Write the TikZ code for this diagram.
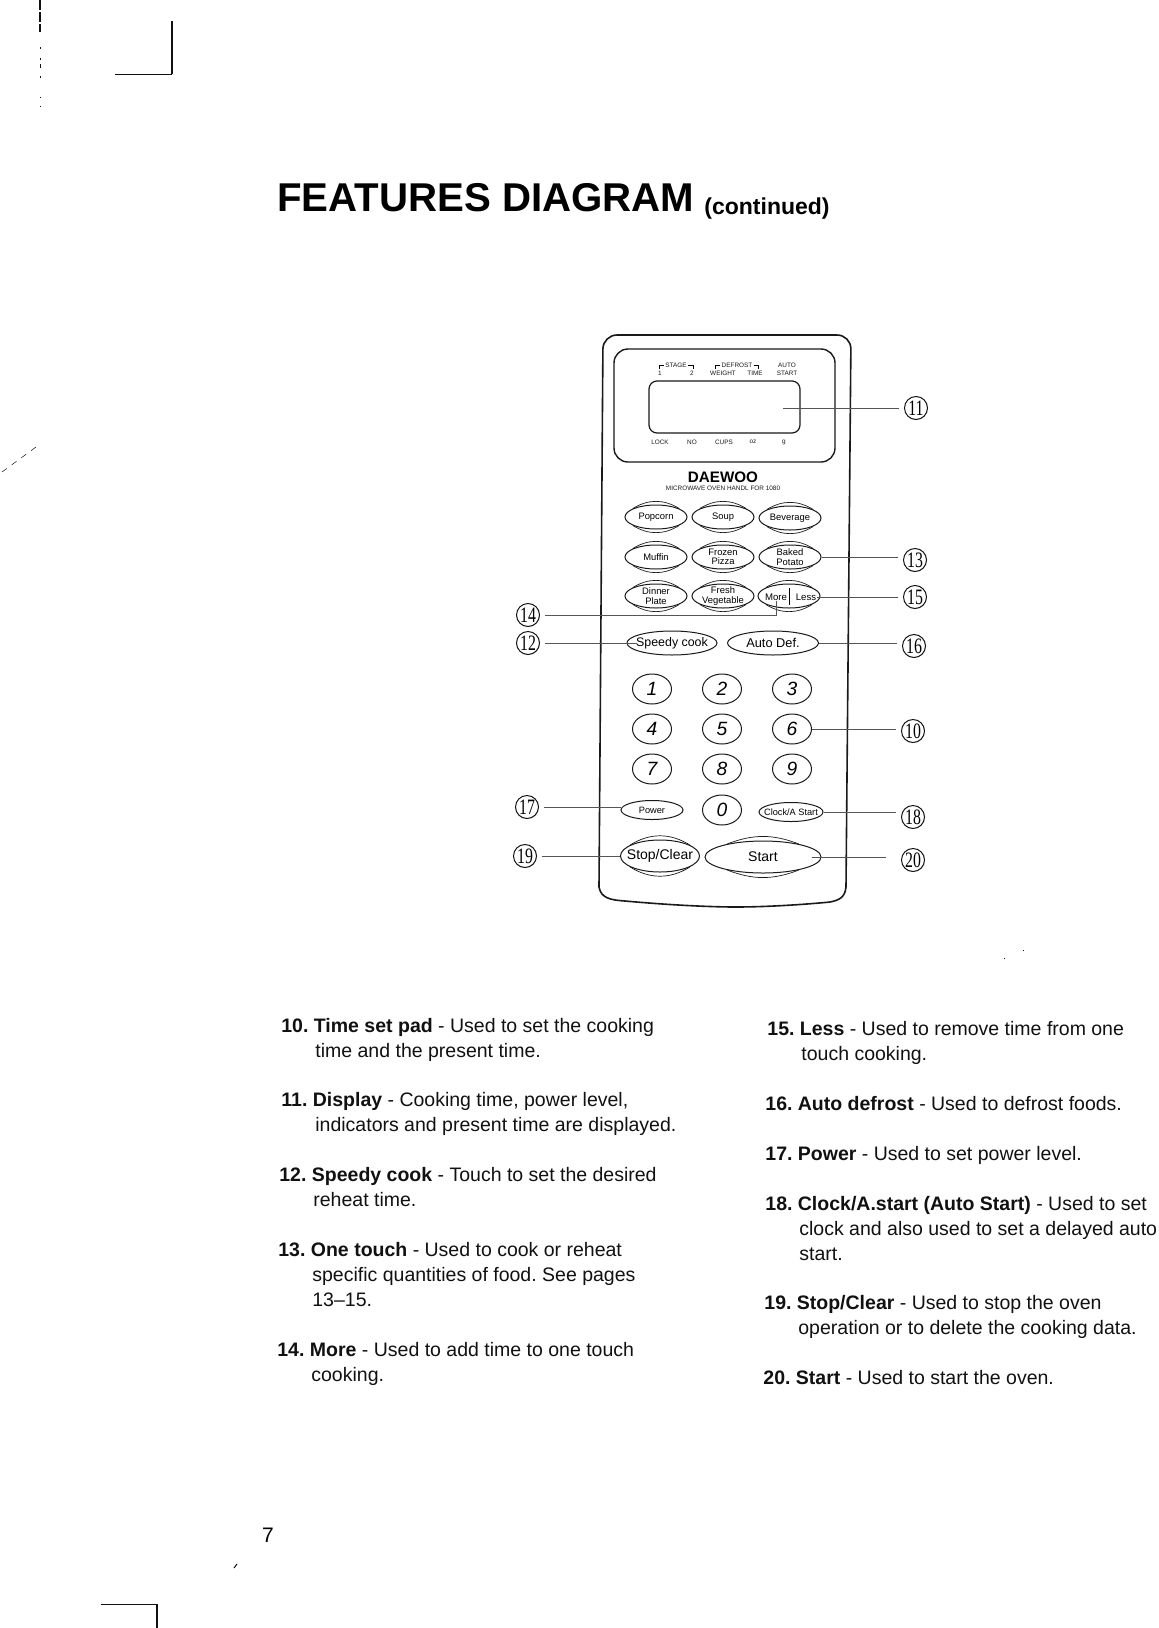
\documentclass[tikz,border=0pt]{standalone}
\usepackage{fontspec}
\setmainfont{Liberation Sans}
\setsansfont{Liberation Sans}
\newfontfamily\calloutfont{Liberation Serif}
\usetikzlibrary{
	positioning,
	calc,
	shapes.geometric
}
\definecolor{PanelInk}{HTML}{1A1A1A}
\definecolor{LeaderGray}{HTML}{555555}
\definecolor{PaperInk}{HTML}{111111}

\begin{document}
\begin{tikzpicture}[
 x=.5pt,y=-.5pt,
 font=\sffamily,
 panel/.style={draw=PanelInk,line width=.8pt,rounded corners=7pt},
 key/.style={ellipse,draw=PanelInk,line width=.5pt,inner xsep=-8pt,inner ysep=-6pt,align=center,
   minimum width=31pt,minimum height=12pt,font=\fontsize{4.7}{4.7}\selectfont},
 keyarc/.style={draw=PanelInk,line width=.35pt},
 numkey/.style={key,minimum width=19.5pt,minimum height=15pt,font=\fontsize{9.6}{10}\selectfont\itshape},
 lcdtext/.style={inner sep=0pt,text=PanelInk,font=\fontsize{3.2}{3.2}\selectfont},
 callout/.style={circle,draw=PaperInk,line width=.5pt,inner sep=0pt,minimum size=11.5pt,
   font=\calloutfont\fontsize{11}{11}\selectfont},
 leader/.style={draw=LeaderGray,line width=.4pt},
 para/.style={anchor=north west,inner sep=0pt,align=left,text=PaperInk,
   font=\fontsize{9.75}{12.6}\selectfont\frenchspacing},
 scan/.style={draw=PaperInk,line width=.5pt}
]
 \useasboundingbox[fill=white] (0,0) rectangle (1158,1628);
 % page marks
 \draw[line width=.4pt,draw=PaperInk] (115,74)--(172,74);
 \draw[line width=1.2pt,draw=PaperInk] (172,74)--(172,21);
 \draw[line width=.4pt,draw=PaperInk] (101,1604)--(157,1604);
 \draw[line width=.6pt,draw=PaperInk] (157,1604)--(157,1628);
 \draw[scan,line width=1pt,dash pattern=on 5pt off 1pt] (40,0)--(40,32);
 \foreach \ya/\yb in {47/49,58/60,64/68,76/78,97/98,106/107}
   \draw[scan] (40,\ya)--(40,\yb);
 \draw[scan] (234,1568)--(237,1564);
 \draw[scan,line width=.25pt,dash pattern=on 3pt off 3pt] (2,472)--(36,447);
 \draw[scan] (1004,958)--(1005,958) (1023,950)--(1024,950);

 % title
 \node[anchor=base west,inner sep=0pt,font=\bfseries\fontsize{20.1}{24}\selectfont] (title) at (277,211)
   {FEATURES DIAGRAM};
 \node[anchor=base west,inner sep=0pt,font=\bfseries\fontsize{11.5}{14}\selectfont] (cont) at (704,214)
   {(continued)};

 % oven panel
 \draw[panel] (599,887)--(603,335)--(851,335)--(846,887);
 \draw[panel,rounded corners=0pt] (599,887) .. controls (601,898) and (610,900) .. (625,901)
   .. controls (680,906) and (720,907) .. (735,907)
   .. controls (770,907) and (810,904) .. (830,902)
   .. controls (840,900) and (845,897) .. (846,887);
 \draw[panel,line width=.7pt] (614,349) rectangle (835,462);
 \draw[panel,line width=.6pt,rounded corners=4pt] (649,381) rectangle (800,433);

 % display legends
 \node[lcdtext] (stage) at (676,365) {STAGE};
 \node[lcdtext] (defrost) at (737,365) {DEFROST};
 \node[lcdtext] (auto) at (787,365) {AUTO};
 \foreach \n/\cx/\t in {one/660/1,two/692/2,weight/723/WEIGHT,time/755/TIME,start/787/START}
   \node[lcdtext] (\n) at (\cx,373) {\t};
 \foreach \n/\cx/\t in {lock/660/LOCK,no/692/NO,cups/724/CUPS,oz/753/oz,gram/784/g}
   \node[lcdtext] (\n) at (\cx,442) {\t};
 \foreach \n in {stage,defrost}{
   \draw[line width=.25pt] ([xshift=-.5pt]\n.west)--++(-5,0)--++(0,4);
   \draw[line width=.25pt] ([xshift=.5pt]\n.east)--++(5,0)--++(0,4);
 }
 \node[inner sep=0pt,font=\bfseries\fontsize{7.6}{8}\selectfont] (brand) at (723,477) {DAEWOO};
 \node[lcdtext] (model) at (723,488) {MICROWAVE OVEN HANDL FOR 1080};

 % keys with the doubled arcs
 \foreach \n/\cx/\cy/\t in {popcorn/656/517/Popcorn,soup/723/517/Soup,beverage/790/518/Beverage,
   muffin/656/557/Muffin,frozen/723/557/{Frozen\\Pizza},baked/790/557/{Baked\\Potato},
   dinner/656/596/{Dinner\\Plate},fresh/723/596/{Fresh\\Vegetable},moreless/789/596/{}}{
   \node[key] (\n) at (\cx,\cy) {\t};
   \draw[keyarc] (\n.160) to[out=32,in=148] (\n.20);
   \draw[keyarc] (\n.200) to[out=-32,in=-148] (\n.340);
 }
 \draw[line width=.4pt] (789,588)--(789,605);
 \node[inner sep=0pt,font=\fontsize{4.8}{6}\selectfont] (more) at (776,597) {More};
 \node[inner sep=0pt,font=\fontsize{4.8}{6}\selectfont] (less) at (806,597) {Less};

 \node[key,minimum width=45pt,font=\fontsize{6.2}{7}\selectfont] (speedy) at (672,643) {Speedy cook};
 \node[key,minimum width=45.5pt,font=\fontsize{6.4}{7}\selectfont] (autodef) at (773,643) {Auto Def.};
 \node[key,minimum height=9.5pt,font=\fontsize{4.6}{5}\selectfont] (power) at (652,810) {Power};
 \node[key,minimum width=32pt,minimum height=9.5pt,font=\fontsize{4.6}{5}\selectfont] (clock) at (791,812) {Clock/A Start};

 % number pad
 \foreach \n/\cx/\cy/\t in {k1/652/689/1,k2/722/689/2,k3/792/689/3,k4/652/729/4,k5/722/729/5,
   k6/792/729/6,k7/652/769/7,k8/722/769/8,k9/792/769/9,k0/722/810/0}
   \node[numkey] (\n) at (\cx,\cy) {\t};

 \node[key,minimum width=39.5pt,minimum height=16pt,font=\fontsize{7}{8}\selectfont] (stop) at (660,856) {Stop/Clear};
 \node[key,minimum width=58pt,minimum height=16pt,font=\fontsize{7}{8}\selectfont] (go) at (763,857) {Start};
 \draw[keyarc] (stop.160) to[out=32,in=148] (stop.20);
 \draw[keyarc] (stop.200) to[out=-32,in=-148] (stop.340);
 \draw[keyarc] (go.160) to[out=21,in=159] (go.20);
 \draw[keyarc] (go.200) to[out=-21,in=-159] (go.340);

 % callouts
 \foreach \n/\cx/\cy in {14/528/615,12/528/643,17/527/807,19/525/856,13/915/560,15/915/597,
   16/914/646,11/916/408,10/913/731,18/913/817,20/913/860}
   \node[callout] (lab\n) at (\cx,\cy) {\scalebox{.72}[1]{\n}};

 \coordinate (lcdpoint) at (783,408);
 \draw[leader,shorten >=2.5pt] (lcdpoint)--(lab11.west);
 \draw[leader,shorten <=2.5pt] (lab14.east)-|(more.south);
 \draw[leader,shorten <=2.5pt] (lab12.east)--([xshift=5pt]speedy.west |- lab12.east);
 \draw[leader,shorten <=2.5pt] (lab17.east)--(lab17.east -| power.west);
 \draw[leader,shorten <=2.5pt] (lab19.east)--(lab19.east -| stop.west);
 \foreach \a/\b in {baked/lab13,less/lab15,autodef/lab16,k6/lab10,clock/lab18}
   \draw[leader,shorten >=2.5pt] (\a.east)--(\a.east -| \b.west);
 \draw[leader,shorten >=2.5pt] ([xshift=-5pt]go.east)--([xshift=-5pt]go.east -| lab20.west);

 % feature notes, left column
 \node[para] (note10) at (281,1018) {\textbf{10. Time set pad} - Used to set the cooking\\\hspace*{17pt}time and the present time.};
 \node[para] (note11) at (281,1092) {\textbf{11. Display} - Cooking time, power level,\\\hspace*{17pt}indicators and present time are displayed.};
 \node[para] (note12) at (279,1167) {\textbf{12. Speedy cook} - Touch to set the desired\\\hspace*{17pt}reheat time.};
 \node[para] (note13) at (278,1242) {\textbf{13. One touch} - Used to cook or reheat\\\hspace*{17pt}specific quantities of food. See pages\\\hspace*{17pt}13\char"2013 15.};
 \node[para] (note14) at (277,1342) {\textbf{14. More} - Used to add time to one touch\\\hspace*{17pt}cooking.};
 % right column
 \node[para] (note15) at (767,1021) {\textbf{15. Less} - Used to remove time from one\\\hspace*{17pt}touch cooking.};
 \node[para] (note16) at (765,1096) {\textbf{16. Auto defrost} - Used to defrost foods.};
 \node[para] (note17) at (765,1146) {\textbf{17. Power} - Used to set power level.};
 \node[para] (note18) at (765,1196) {\textbf{18. Clock/A.start (Auto Start)} - Used to set\\\hspace*{17pt}clock and also used to set a delayed auto\\\hspace*{17pt}start.};
 \node[para] (note19) at (764,1295) {\textbf{19. Stop/Clear} - Used to stop the oven\\\hspace*{17pt}operation or to delete the cooking data.};
 \node[para] (note20) at (763,1370) {\textbf{20. Start} - Used to start the oven.};
 \node[anchor=base,inner sep=0pt,font=\fontsize{10.5}{12}\selectfont] (pageno) at (268,1542) {7};
\end{tikzpicture}
\end{document}
